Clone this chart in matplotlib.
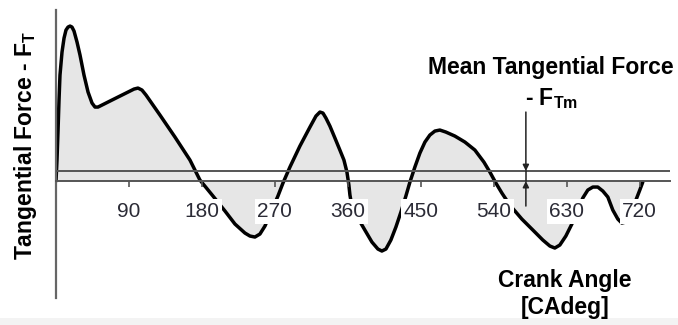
import matplotlib
matplotlib.use("Agg")
import matplotlib.pyplot as plt
from matplotlib.patches import Rectangle

plt.rcParams['font.family'] = ['Liberation Sans', 'DejaVu Sans']
plt.rcParams['mathtext.default'] = 'regular'

# Crank angle [deg] and tangential force (arbitrary units)
crank_angle = [0, 1.2, 2.5, 3.7, 4.9, 7.4, 9.9, 12.3, 14.8, 17.3, 19.7, 22.2, 25.9,
               29.6, 34.5, 39.5, 44.4, 48.1, 51.8, 59.2, 69.0, 78.9, 88.8, 96.2,
               101.1, 106.0, 111.0, 128.2, 146.7, 165.2, 177.5, 193.6, 208.4, 220.7,
               233.0, 239.2, 245.3, 251.5, 257.7, 266.3, 273.7, 279.9, 288.5, 300.8,
               313.2, 320.6, 325.5, 329.2, 332.9, 337.8, 344.0, 350.1, 355.1, 358.8,
               361.2, 362.5, 364.9, 372.3, 380.9, 389.6, 397.0, 401.9, 406.9, 413.0,
               419.2, 425.4, 431.5, 436.5, 442.6, 448.8, 455.0, 461.1, 467.3, 473.4,
               480.8, 491.9, 504.3, 516.6, 527.7, 535.1, 542.5, 549.9, 559.7, 574.5,
               588.1, 600.4, 609.1, 615.2, 621.4, 628.8, 636.2, 643.6, 649.7, 655.9,
               662.1, 668.2, 674.4, 680.6, 686.7, 692.9, 697.8, 702.7, 707.7, 713.8,
               720.0, 723.7]
tangential_force = [0, 2.1, 5.1, 8.1, 10.6, 12.9, 14.3, 15.1, 15.4, 15.5, 15.4, 15.0,
                    13.9, 12.6, 10.6, 8.9, 7.8, 7.4, 7.4, 7.7, 8.1, 8.5, 8.9, 9.2, 9.3,
                    9.1, 8.6, 6.6, 4.4, 2.1, 0.1, -1.5, -3.0, -4.3, -5.2, -5.5, -5.6,
                    -5.3, -4.5, -2.9, -1.5, -0.2, 1.4, 3.5, 5.4, 6.5, 6.9, 6.8, 6.3,
                    5.5, 4.3, 3.1, 2.1, 0.9, -0.4, -1.4, -2.5, -3.7, -4.9, -6.1, -6.8,
                    -7.0, -6.8, -5.9, -4.6, -3.1, -1.5, -0.1, 1.4, 2.8, 3.9, 4.6, 5.0,
                    5.1, 4.9, 4.5, 3.9, 3.1, 1.9, 0.9, -0.2, -1.2, -2.4, -3.8, -4.9,
                    -5.9, -6.5, -6.7, -6.4, -5.5, -4.3, -2.9, -1.7, -0.9, -0.6, -0.6,
                    -1.0, -1.6, -2.9, -3.8, -4.2, -4.1, -3.5, -2.2, -0.9, -0.1]
mean_force = 1.0
mean_marker_angle = 579.5
tick_values = [90, 180, 270, 360, 450, 540, 630, 720]
tick_labels = ['90', '180', '270', '360', '450', '540', '630', '720']

fig = plt.figure(figsize=(6.78, 3.25), dpi=100)
fig.patches.append(Rectangle((0, 0), 1, 7 / 325, transform=fig.transFigure,
                             facecolor='#f3f3f3', edgecolor='none', zorder=0))
ax = fig.add_axes([0.0819, 0.083, 0.906, 0.886])
ax.patch.set_alpha(0)
ax.set_xlim(-0.6, 757)
ax.set_ylim(-11.7, 17.1)

ax.fill_between(crank_angle, tangential_force, 0, color='#e6e6e6', lw=0, zorder=1)
ax.plot(crank_angle, tangential_force, color='black', lw=2.5, zorder=2,
        solid_capstyle='round', solid_joinstyle='round')
ax.axhline(mean_force, color='#555555', lw=1.4, zorder=3)

for s in ['top', 'right']:
    ax.spines[s].set_visible(False)
ax.spines['bottom'].set_position(('data', 0))
ax.spines['bottom'].set_color('#555555')
ax.spines['bottom'].set_linewidth(1.4)
ax.spines['left'].set_color('#666666')
ax.spines['left'].set_linewidth(1.6)
ax.set_yticks([])
ax.set_xticks(tick_values)
ax.set_xticklabels(tick_labels)
ax.tick_params(axis='x', direction='out', length=4, width=1.2, color='#555555',
               labelsize=15, labelcolor='#2b2b36', pad=11)
ax.set_axisbelow(False)
for lab in ax.get_xticklabels():
    lab.set_bbox(dict(facecolor='white', edgecolor='none', pad=2.0))

# mean arrows
ax.annotate('', xy=(mean_marker_angle, mean_force), xytext=(mean_marker_angle, 6.9),
            arrowprops=dict(arrowstyle='-|>', color='#222222', lw=1.1,
                            mutation_scale=9, shrinkA=0, shrinkB=0), zorder=4)
ax.annotate('', xy=(mean_marker_angle, 0), xytext=(mean_marker_angle, -2.5),
            arrowprops=dict(arrowstyle='-|>', color='#222222', lw=1.1,
                            mutation_scale=9, shrinkA=0, shrinkB=0), zorder=4)
ax.plot([mean_marker_angle, mean_marker_angle], [0, mean_force], color='#222222',
        lw=1.1, zorder=4)

fig.text(0.8127, 0.792, 'Mean Tangential Force', ha='center', va='center',
         fontsize=16.5, fontweight='bold')
fig.text(0.814, 0.696, '- F$_{Tm}$', ha='center', va='center',
         fontsize=16.5, fontweight='bold')
fig.text(0.833, 0.138, 'Crank Angle', ha='center', va='center',
         fontsize=16.5, fontweight='bold')
fig.text(0.833, 0.055, '[CAdeg]', ha='center', va='center',
         fontsize=16.5, fontweight='bold')
fig.text(0.038, 0.552, 'Tangential Force - F$_{T}$', ha='center', va='center',
         rotation=90, fontsize=16.5, fontweight='bold')

fig.savefig('out.png', dpi=100, facecolor='white')
